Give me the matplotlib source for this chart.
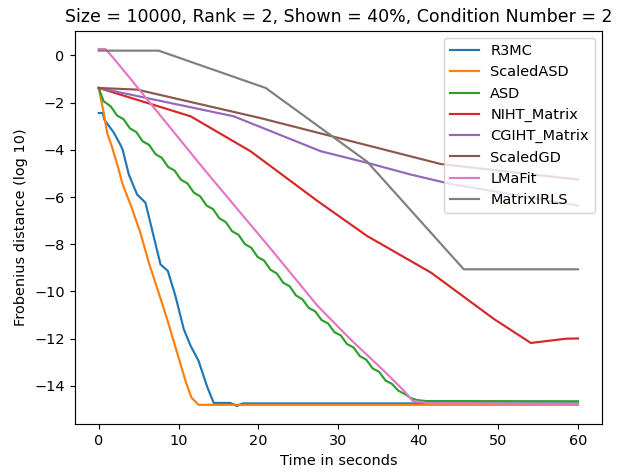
import matplotlib
matplotlib.use("Agg")
import matplotlib.pyplot as plt

TITLE = "Size = 10000, Rank = 2, Shown = 40%, Condition Number = 2"

# (time in seconds, log10 Frobenius distance) per method
r3mc_t = [0, 0.5, 0.7, 1.9, 2.7, 3.0, 3.76, 4.8, 5.85, 7.73, 8.65, 9.6, 10.65,
          11.5, 12.5, 13.6, 14.4, 16.5, 17.3, 18.0, 60]
r3mc_v = [-2.44, -2.44, -2.72, -3.28, -3.78, -4.0, -5.04, -5.89, -6.24, -8.85,
          -9.13, -10.19, -11.6, -12.3, -12.94, -14.06, -14.72, -14.72, -14.85,
          -14.74, -14.74]

scaledasd_t = [0, 0.2, 0.63, 1.05, 1.68, 2.5, 2.93, 4.2, 5.2, 6.27, 7.5, 8.57,
               9.8, 10.86, 11.6, 12.5, 60]
scaledasd_v = [-1.38, -1.73, -2.44, -3.28, -3.9, -4.83, -5.4, -6.52, -7.5,
               -8.78, -10.05, -11.18, -12.58, -13.78, -14.49, -14.8, -14.8]

asd_t = [0, 0.6, 1.5, 2.3, 3.1, 3.9, 4.7, 5.5, 6.3, 7.1, 7.9, 8.7, 9.5, 10.3,
         11.1, 11.9, 12.7, 13.5, 14.3, 15.1, 15.9, 16.7, 17.5, 18.3, 19.1, 19.9,
         20.7, 21.5, 22.3, 23.1, 23.9, 24.7, 25.5, 26.3, 27.1, 27.9, 28.7, 29.5,
         30.3, 31.1, 31.9, 32.7, 33.5, 34.3, 35.1, 35.9, 36.7, 37.5, 38.3, 39.1,
         39.9, 41, 60]
asd_v = [-1.38, -1.94, -2.16, -2.55, -2.70, -3.09, -3.25, -3.64, -3.79, -4.18,
         -4.34, -4.73, -4.88, -5.27, -5.42, -5.81, -5.97, -6.36, -6.51, -6.90,
         -7.06, -7.45, -7.60, -7.99, -8.15, -8.54, -8.69, -9.08, -9.24, -9.63,
         -9.78, -10.17, -10.33, -10.70, -10.84, -11.21, -11.35, -11.72, -11.86,
         -12.23, -12.37, -12.74, -12.89, -13.26, -13.40, -13.77, -13.91, -14.20,
         -14.34, -14.52, -14.6, -14.64, -14.65]

niht_t = [0, 11.5, 19.0, 27.4, 33.6, 41.6, 49.5, 54.1, 58.5, 60]
niht_v = [-1.38, -2.58, -4.06, -6.17, -7.65, -9.2, -11.17, -12.18, -12.0, -11.99]

cgiht_t = [0, 16.9, 27.8, 33.6, 39.1, 44.1, 60]
cgiht_v = [-1.38, -2.58, -4.06, -4.55, -5.05, -5.45, -6.36]

scaledgd_t = [0, 4.8, 20.3, 42.8, 60]
scaledgd_v = [-1.38, -1.45, -2.66, -4.6, -5.26]

lmafit_t = [0, 0.84, 1.8, 3.56, 6.27, 9.0, 13.2, 21.7, 27.4, 31.5, 35.7, 38.2,
            39.3, 41.2, 60]
lmafit_v = [0.27, 0.27, -0.1, -0.82, -1.95, -3.08, -4.83, -8.26, -10.61,
            -12.02, -13.36, -14.2, -14.63, -14.73, -14.76]

irls_t = [0, 7.5, 20.9, 33.6, 45.7, 60]
irls_v = [0.2, 0.2, -1.38, -4.5, -9.06, -9.06]

series = [
    ("R3MC", r3mc_t, r3mc_v),
    ("ScaledASD", scaledasd_t, scaledasd_v),
    ("ASD", asd_t, asd_v),
    ("NIHT_Matrix", niht_t, niht_v),
    ("CGIHT_Matrix", cgiht_t, cgiht_v),
    ("ScaledGD", scaledgd_t, scaledgd_v),
    ("LMaFit", lmafit_t, lmafit_v),
    ("MatrixIRLS", irls_t, irls_v),
]

DPI = 104
fig, ax = plt.subplots(figsize=(618 / DPI, 472 / DPI), dpi=DPI)
for name, t, v in series:
    ax.plot(t, v, label=name)

ax.set_title(TITLE)
ax.set_xlabel("Time in seconds")
ax.set_ylabel("Frobenius distance (log 10)")
ax.legend(loc="upper right")
fig.subplots_adjust(left=0.121, right=0.974, top=0.934, bottom=0.102)
fig.savefig("out.png", dpi=DPI)
